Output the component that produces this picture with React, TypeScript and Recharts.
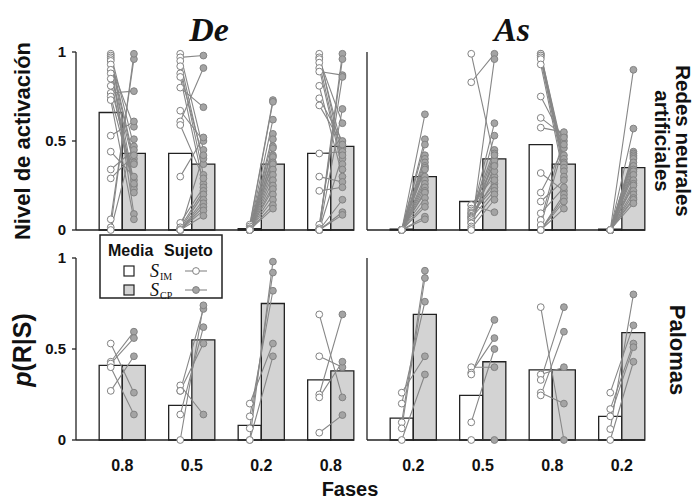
import React from "react";
import { ComposedChart, Bar, Line, XAxis, YAxis, Cell } from "recharts";

// fases (etiquetas del eje x)
const fasesDe = ["0.8", "0.5", "0.2", "0.8"];
const fasesAs = ["0.2", "0.5", "0.8", "0.2"];

// medias (barras) - redes neurales
const redDeMediaIM = [0.66, 0.43, 0.008, 0.43];
const redDeMediaCP = [0.43, 0.37, 0.37, 0.47];
const redAsMediaIM = [0.005, 0.16, 0.48, 0.005];
const redAsMediaCP = [0.3, 0.4, 0.37, 0.35];

// medias (barras) - palomas
const palDeMediaIM = [0.41, 0.19, 0.08, 0.33];
const palDeMediaCP = [0.41, 0.55, 0.75, 0.38];
const palAsMediaIM = [0.12, 0.245, 0.385, 0.13];
const palAsMediaCP = [0.69, 0.43, 0.385, 0.59];

// sujetos - redes, De
const redDeIM = [
  [0.99, 0.98, 0.97, 0.96, 0.95, 0.93, 0.9, 0.88, 0.85, 0.81, 0.77, 0.75, 0.73, 0.53, 0.44, 0.34, 0.29, 0.06, 0.015, 0],
  [0.99, 0.97, 0.95, 0.92, 0.88, 0.86, 0.8, 0.67, 0.61, 0.59, 0.3, 0.04, 0.015, 0.005, 0, 0, 0, 0, 0, 0],
  [0.03, 0.02, 0.01, 0.005, 0, 0, 0, 0, 0, 0, 0, 0, 0, 0, 0, 0, 0, 0, 0, 0],
  [0.99, 0.97, 0.96, 0.94, 0.91, 0.89, 0.81, 0.74, 0.7, 0.43, 0.3, 0.22, 0.03, 0.01, 0, 0, 0, 0, 0, 0],
];
const redDeCP = [
  [0.47, 0.25, 0.4, 0.09, 0.38, 0.58, 0.23, 0.37, 0.21, 0.28, 0.78, 0.26, 0.06, 0.61, 0.3, 0.45, 0.42, 0.96, 0.99, 0.51],
  [0.45, 0.98, 0.37, 0.31, 0.4, 0.26, 0.69, 0.5, 0.91, 0.29, 0.52, 0.24, 0.22, 0.2, 0.42, 0.17, 0.15, 0.13, 0.11, 0.08],
  [0.73, 0.72, 0.62, 0.54, 0.51, 0.47, 0.46, 0.42, 0.41, 0.38, 0.37, 0.34, 0.31, 0.28, 0.25, 0.23, 0.2, 0.17, 0.14, 0.12],
  [0.4, 0.46, 0.6, 0.37, 0.34, 0.87, 0.3, 0.5, 0.48, 0.44, 0.27, 0.24, 0.86, 0.99, 0.96, 0.68, 0.42, 0.17, 0.1, 0.085],
];

// sujetos - redes, As
const redAsIM = [
  [0, 0, 0, 0, 0, 0, 0, 0, 0, 0, 0, 0, 0, 0, 0, 0, 0, 0, 0, 0],
  [0.99, 0.83, 0.14, 0.14, 0.12, 0.11, 0.1, 0.094, 0.09, 0.08, 0.075, 0.07, 0.066, 0.06, 0.05, 0.04, 0.037, 0.02, 0.01, 0],
  [0.99, 0.99, 0.98, 0.98, 0.97, 0.96, 0.93, 0.75, 0.63, 0.575, 0.32, 0.21, 0.16, 0.094, 0.056, 0.028, 0, 0, 0, 0],
  [0, 0, 0, 0, 0, 0, 0, 0, 0, 0, 0, 0, 0, 0, 0, 0, 0, 0, 0, 0],
];
const redAsCP = [
  [0.65, 0.51, 0.48, 0.42, 0.4, 0.38, 0.36, 0.35, 0.34, 0.3, 0.28, 0.26, 0.24, 0.22, 0.21, 0.18, 0.15, 0.13, 0.075, 0.06],
  [0.4, 0.99, 0.1, 0.3, 0.37, 0.33, 0.45, 0.26, 0.24, 0.43, 0.6, 0.28, 0.22, 0.53, 0.39, 0.36, 0.2, 0.42, 0.17, 0.96],
  [0.42, 0.4, 0.38, 0.37, 0.35, 0.33, 0.3, 0.5, 0.53, 0.55, 0.22, 0.46, 0.28, 0.24, 0.52, 0.48, 0.2, 0.18, 0.16, 0.12],
  [0.9, 0.57, 0.44, 0.43, 0.42, 0.41, 0.4, 0.38, 0.36, 0.34, 0.33, 0.31, 0.28, 0.26, 0.25, 0.22, 0.2, 0.18, 0.17, 0.15],
];

// sujetos - palomas
const palDeIM = [
  [0.53, 0.43, 0.42, 0.4, 0.27],
  [0.3, 0.27, 0.27, 0.14, 0],
  [0.2, 0.13, 0.064, 0, 0],
  [0.69, 0.46, 0.25, 0.234, 0.04],
];
const palDeCP = [
  [0.26, 0.595, 0.56, 0.14, 0.46],
  [0.14, 0.53, 0.72, 0.62, 0.74],
  [0.53, 0.82, 0.92, 0.98, 0.46],
  [0.234, 0.4, 0.69, 0.43, 0.137],
];
const palAsIM = [
  [0.26, 0.2, 0.097, 0.064, 0],
  [0.4, 0.37, 0.36, 0.097, 0],
  [0.73, 0.36, 0.33, 0.26, 0.245],
  [0.26, 0.17, 0.13, 0.06, 0],
];
const palAsCP = [
  [0.46, 0.76, 0.93, 0.89, 0.36],
  [0.4, 0.56, 0.66, 0.5, 0],
  [0, 0.4, 0.73, 0.2, 0.595],
  [0.63, 0.53, 0.51, 0.8, 0.43],
];

const SANS = "'Liberation Sans', Arial, sans-serif";
const SERIF = "'Liberation Serif', 'Times New Roman', serif";
const PLOT_W = 278;
const BAND = PLOT_W / 12;

function buildRows(etiquetas: string[], mIM: number[], mCP: number[], sIM: number[][], sCP: number[][]) {
  const rows: any[] = [];
  etiquetas.forEach((lab, p) => {
    const sp: any = { cat: `sp${p}`, bar: null, kind: "sp" };
    const im: any = { cat: `im${p}`, bar: mIM[p], kind: "IM", lab };
    const cp: any = { cat: `cp${p}`, bar: mCP[p], kind: "CP" };
    sIM[p].forEach((v, i) => {
      sp[`s${i}`] = null;
      im[`s${i}`] = v;
      cp[`s${i}`] = sCP[p][i];
    });
    rows.push(sp, im, cp);
  });
  return rows;
}

const renderDot = (props: any) => {
  const { cx, cy, index, value } = props;
  if (cx == null || cy == null || value == null) return <g key={`e-${index}`} />;
  const isIM = index % 3 === 1;
  return (
    <circle
      key={`d-${index}`}
      cx={cx}
      cy={cy}
      r={3.4}
      fill={isIM ? "#ffffff" : "#a4a4a4"}
      stroke="#828282"
      strokeWidth={1}
    />
  );
};

interface PanelProps {
  rows: any[];
  n: number;
  left: number;
  top: number;
  conEtiquetasY: boolean;
  etiquetasX?: string[];
  bottom: boolean;
}

function Panel({ rows, n, left, top, conEtiquetasY, etiquetasX, bottom }: PanelProps) {
  const yW = conEtiquetasY ? 76 : 10;
  const mTop = bottom ? 8 : 52;
  const plotH = bottom ? 182 : 178;
  const xH = etiquetasX ? 40 : 12;
  const keys = Array.from({ length: n }, (_, i) => `s${i}`);

  const tickX = (props: any) => {
    const { x, y, payload } = props;
    const v = String(payload.value);
    if (!etiquetasX || !v.startsWith("im")) return <g />;
    const p = Number(v.slice(2));
    return (
      <text x={x + BAND / 2} y={y + 23} textAnchor="middle" fontFamily={SANS} fontWeight="bold" fontSize={16} fill="#111">
        {etiquetasX[p]}
      </text>
    );
  };

  return (
    <div style={{ position: "absolute", left, top }}>
      <ComposedChart
        width={yW + PLOT_W + 8}
        height={mTop + plotH + xH}
        data={rows}
        margin={{ top: mTop, right: 8, bottom: 0, left: 0 }}
        barCategoryGap={0}
        barGap={0}
      >
        <XAxis
          dataKey="cat"
          interval={0}
          height={xH}
          axisLine={{ stroke: "#222", strokeWidth: 1.3 }}
          tickLine={false}
          tick={etiquetasX ? tickX : false}
        />
        <YAxis
          domain={[0, 1]}
          ticks={[0, 0.5, 1]}
          interval={0}
          width={yW}
          tickSize={4}
          tickMargin={6}
          axisLine={{ stroke: "#222", strokeWidth: 1.3 }}
          tickLine={{ stroke: "#222", strokeWidth: 1.3 }}
          tick={conEtiquetasY ? { fontFamily: SANS, fontWeight: "bold", fontSize: 15, fill: "#111" } : false}
        />
        <Bar dataKey="bar" stroke="#222" strokeWidth={1.3} isAnimationActive={false}>
          {rows.map((r, i) => (
            <Cell key={`c-${i}`} fill={r.kind === "IM" ? "#ffffff" : "#d3d3d3"} />
          ))}
        </Bar>
        {keys.map((k) => (
          <Line
            key={`l-${k}`}
            dataKey={k}
            type="linear"
            stroke="#878787"
            strokeWidth={1.1}
            dot={false}
            activeDot={false}
            isAnimationActive={false}
          />
        ))}
        {keys.map((k) => (
          <Line
            key={`p-${k}`}
            dataKey={k}
            type="linear"
            stroke="none"
            dot={renderDot}
            activeDot={false}
            isAnimationActive={false}
          />
        ))}
      </ComposedChart>
    </div>
  );
}

export default function App() {
  const redDe = buildRows(fasesDe, redDeMediaIM, redDeMediaCP, redDeIM, redDeCP);
  const redAs = buildRows(fasesAs, redAsMediaIM, redAsMediaCP, redAsIM, redAsCP);
  const palDe = buildRows(fasesDe, palDeMediaIM, palDeMediaCP, palDeIM, palDeCP);
  const palAs = buildRows(fasesAs, palAsMediaIM, palAsMediaCP, palAsIM, palAsCP);

  return (
    <div style={{ position: "absolute", left: 0, top: 0, width: 697, height: 501, background: "#fff", overflow: "hidden" }}>
      <Panel rows={redDe} n={20} left={0} top={0} conEtiquetasY bottom={false} />
      <Panel rows={redAs} n={20} left={357} top={0} conEtiquetasY={false} bottom={false} />
      <Panel rows={palDe} n={5} left={0} top={250} conEtiquetasY etiquetasX={fasesDe} bottom />
      <Panel rows={palAs} n={5} left={357} top={250} conEtiquetasY={false} etiquetasX={fasesAs} bottom />

      <svg width={697} height={501} style={{ position: "absolute", left: 0, top: 0, pointerEvents: "none" }}>
        <text x={209} y={41} textAnchor="middle" fontFamily={SERIF} fontStyle="italic" fontWeight="bold" fontSize={34} fill="#111">De</text>
        <text x={512} y={41} textAnchor="middle" fontFamily={SERIF} fontStyle="italic" fontWeight="bold" fontSize={34} fill="#111">As</text>

        <text transform="translate(30,141) rotate(-90)" textAnchor="middle" fontFamily={SANS} fontWeight="bold" fontSize={22} fill="#111">
          Nivel de activación
        </text>
        <text transform="translate(31,350) rotate(-90)" textAnchor="middle" fontFamily={SANS} fontWeight="bold" fontSize={25} fill="#111">
          <tspan fontStyle="italic">p</tspan>(R|S)
        </text>

        <text transform="translate(676,141) rotate(90)" textAnchor="middle" fontFamily={SANS} fontWeight="bold" fontSize={20.5} fill="#111">
          Redes neurales
        </text>
        <text transform="translate(655,141) rotate(90)" textAnchor="middle" fontFamily={SANS} fontWeight="bold" fontSize={20.5} fill="#111">
          artificiales
        </text>
        <text transform="translate(670,350) rotate(90)" textAnchor="middle" fontFamily={SANS} fontWeight="bold" fontSize={22} fill="#111">
          Palomas
        </text>

        <text x={350} y={496} textAnchor="middle" fontFamily={SANS} fontWeight="bold" fontSize={20} fill="#111">Fases</text>

        {/* leyenda */}
        <rect x={100} y={235} width={122} height={63} fill="#fff" stroke="#222" strokeWidth={1.5} />
        <text x={108} y={256} fontFamily={SANS} fontWeight="bold" fontSize={16} fill="#111">Media</text>
        <text x={164} y={256} fontFamily={SANS} fontWeight="bold" fontSize={16} fill="#111">Sujeto</text>

        <rect x={124} y={266} width={10} height={10} fill="#fff" stroke="#222" strokeWidth={1.2} />
        <text x={150} y={277} fontFamily={SERIF} fontStyle="italic" fontSize={18} fill="#111">S</text>
        <text x={160} y={280} fontFamily={SERIF} fontSize={10} fill="#111">IM</text>
        <line x1={185} y1={271} x2={207} y2={271} stroke="#878787" strokeWidth={1.1} />
        <circle cx={196} cy={271} r={3.4} fill="#fff" stroke="#828282" />

        <rect x={124} y={285} width={10} height={10} fill="#d3d3d3" stroke="#222" strokeWidth={1.2} />
        <text x={150} y={296} fontFamily={SERIF} fontStyle="italic" fontSize={18} fill="#111">S</text>
        <text x={160} y={299} fontFamily={SERIF} fontSize={10} fill="#111">CP</text>
        <line x1={185} y1={290} x2={207} y2={290} stroke="#878787" strokeWidth={1.1} />
        <circle cx={196} cy={290} r={3.4} fill="#a4a4a4" stroke="#828282" />
      </svg>
    </div>
  );
}
